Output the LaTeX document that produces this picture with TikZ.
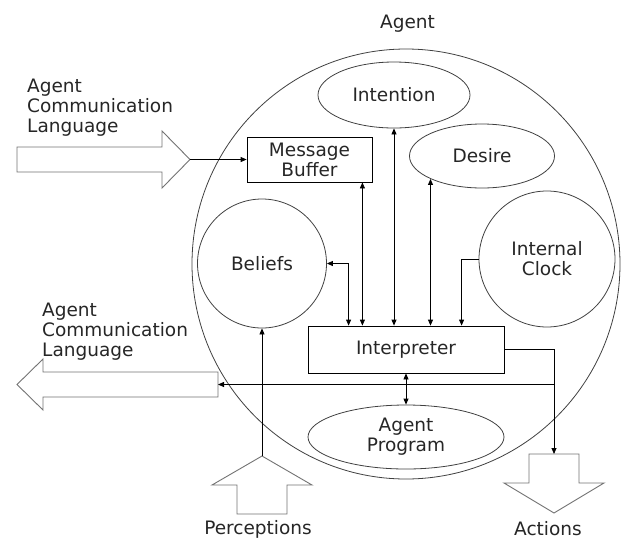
\documentclass[tikz,border=0pt]{standalone}
\usepackage{fontspec}
\setmainfont{DejaVu Sans}
\usetikzlibrary{arrows.meta,shapes.geometric}
\begin{document}
\begin{tikzpicture}[x=1pt,y=-1pt,
  txt/.style={font=\fontsize{18.5}{20}\selectfont, text=black!85},
  shp/.style={draw=black!75, line width=0.8pt},
  ell/.style={shp, ellipse, inner sep=0pt, txt, align=center},
  circ/.style={shp, circle, inner sep=0pt, txt, align=center},
  box/.style={draw=black, line width=0.8pt, inner sep=0pt, txt, align=center},
  bigarrow/.style={draw=black!55, line width=0.9pt, fill=white},
  conn/.style={line width=0.8pt, -{Triangle[length=6pt,width=5pt]}},
  dconn/.style={line width=0.8pt, {Triangle[length=6pt,width=5pt]}-{Triangle[length=6pt,width=5pt]}},
  lbl/.style={txt, inner sep=0pt}
]
\useasboundingbox (0,0) rectangle (624,539);

% outer agent circle
\node[ell, minimum width=428pt, minimum height=430pt] (agent) at (406,264) {};

% inner components
\node[ell, minimum width=152pt, minimum height=66pt] (int) at (394,95) {Intention};
\node[ell, minimum width=145pt, minimum height=64pt] (des) at (482,156) {Desire};
\node[circ, minimum size=136pt] (clk) at (547,259) {Internal\\Clock};
\node[circ, minimum size=129pt] (bel) at (262,263.5) {Beliefs};
\node[ell, minimum width=196pt, minimum height=64pt] (prog) at (406,437) {Agent\\Program};
\node[box, minimum width=125pt, minimum height=45pt] (buf) at (309.5,159.5) {Message\\Buffer};
\node[box, minimum width=196pt, minimum height=47pt] (interp) at (406,349.5) {Interpreter};

% big block arrows
\draw[bigarrow] (17,147) -- (162,147) -- (162,131) -- (190,159.5) -- (162,188) -- (162,172) -- (17,172) -- cycle;
\coordinate (intip) at (190,159.5);
\draw[bigarrow] (218,372) -- (43,372) -- (43,359) -- (17,384.5) -- (43,410) -- (43,397) -- (218,397) -- cycle;
\coordinate (outend) at (218,384.5);
\draw[bigarrow] (237,514) -- (237,485) -- (212,485) -- (262,456) -- (312,485) -- (287,485) -- (287,514) -- cycle;
\coordinate (ptip) at (262,456);
\draw[bigarrow] (529,454) -- (579,454) -- (579,483) -- (604,483) -- (554,513) -- (504,483) -- (529,483) -- cycle;
\coordinate (acttop) at (554,454);

% connectors
\draw[conn] (intip) -- (buf.west);
\draw[conn] (ptip) -- (bel.south);
\draw[dconn] (bel.east) -| ([xshift=41pt]interp.north west);
\coordinate (m1) at ([xshift=-10pt]buf.south east);
\draw[dconn] (m1) -- (m1 |- interp.north);
\draw[dconn] (int.south) -- (int.south |- interp.north);
\draw[dconn] (des.204) -- (des.204 |- interp.north);
\draw[conn] (clk.west) -| ([xshift=154pt]interp.north west);
\draw[dconn] (interp.south) -- (prog.north);
\draw[conn] (interp.east) -| (acttop);
\coordinate (junc) at (acttop |- outend);
\draw[conn] (junc) -- (outend);

% labels
\node[lbl, anchor=base] (title) at (407.5,28) {Agent};
\node[lbl, anchor=north west, align=left] (acl1) at (27,78.5) {Agent\\Communication\\Language};
\node[lbl, anchor=north west, align=left] (acl2) at (42,302.5) {Agent\\Communication\\Language};
\node[lbl, anchor=base] (perc) at (258,534) {Perceptions};
\node[lbl, anchor=base] (act) at (548,535) {Actions};
\end{tikzpicture}
\end{document}
